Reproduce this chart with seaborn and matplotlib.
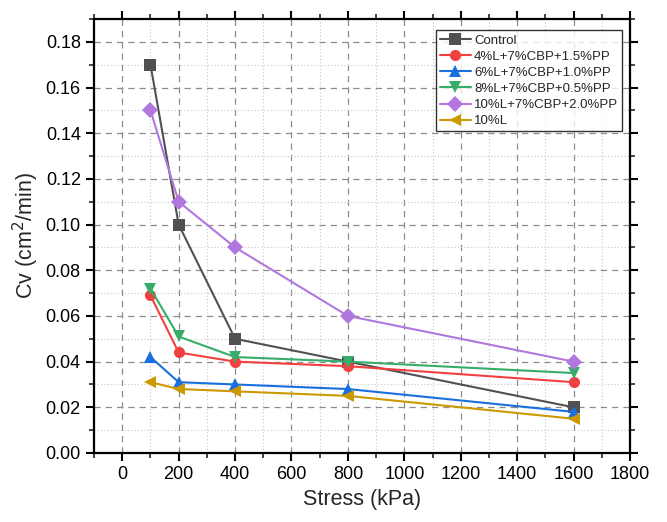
import numpy as np
import pandas as pd
import matplotlib
matplotlib.use("Agg")
import matplotlib.pyplot as plt
from matplotlib.ticker import MultipleLocator
import seaborn as sns

# Consolidation coefficient vs. applied stress
stress = [100, 200, 400, 800, 1600]
mixes = [
    "Control",
    "4%L+7%CBP+1.5%PP",
    "6%L+7%CBP+1.0%PP",
    "8%L+7%CBP+0.5%PP",
    "10%L+7%CBP+2.0%PP",
    "10%L",
]
cv_control = [0.170, 0.100, 0.050, 0.040, 0.020]
cv_4L = [0.069, 0.044, 0.040, 0.038, 0.031]
cv_6L = [0.042, 0.031, 0.030, 0.028, 0.018]
cv_8L = [0.072, 0.051, 0.042, 0.040, 0.035]
cv_10L_pp = [0.150, 0.110, 0.090, 0.060, 0.040]
cv_10L = [0.031, 0.028, 0.027, 0.025, 0.015]

series = [cv_control, cv_4L, cv_6L, cv_8L, cv_10L_pp, cv_10L]
colors = ["#515151", "#F14040", "#1A6FDF", "#37AD6B", "#B177DE", "#CC9900"]
markers = ["s", "o", "^", "v", "D", "<"]

df = pd.DataFrame(
    [(m, s, v) for m, vals in zip(mixes, series) for s, v in zip(stress, vals)],
    columns=["Mix", "Stress", "Cv"],
)

sns.set_style("ticks")
plt.rcParams["font.family"] = ["Liberation Sans", "DejaVu Sans"]

fig = plt.figure(figsize=(6.67, 5.22), dpi=100)
ax = fig.add_axes([0.141, 0.1322, 0.8035, 0.8314])

sns.lineplot(
    data=df, x="Stress", y="Cv", hue="Mix", style="Mix",
    hue_order=mixes, style_order=mixes,
    palette=dict(zip(mixes, colors)),
    markers=dict(zip(mixes, markers)),
    dashes=False, markersize=8, linewidth=1.5,
    markeredgewidth=0, ax=ax, zorder=3,
)

ax.set_xlim(-100, 1800)
ax.set_ylim(0, 0.19)
ax.xaxis.set_major_locator(MultipleLocator(200))
ax.xaxis.set_minor_locator(MultipleLocator(100))
ax.yaxis.set_major_locator(MultipleLocator(0.02))
ax.yaxis.set_minor_locator(MultipleLocator(0.01))
ax.yaxis.set_major_formatter(matplotlib.ticker.FormatStrFormatter("%.2f"))

ax.grid(which="major", linestyle=(0, (5, 4)), color="#8c8c8c", linewidth=0.9)
ax.grid(which="minor", linestyle=(0, (1, 2)), color="#c8c8c8", linewidth=0.8)
ax.set_axisbelow(True)

for sp in ax.spines.values():
    sp.set_linewidth(1.6)
    sp.set_color("black")
ax.tick_params(which="major", direction="out", length=6, width=1.5,
               top=True, right=True, labelsize=13, colors="black")
ax.tick_params(which="minor", direction="out", length=3.5, width=1.2,
               top=True, right=True)
ax.tick_params(labeltop=False, labelright=False)

ax.set_xlabel("Stress (kPa)", fontsize=15.5, labelpad=4)
ax.set_ylabel("Cv (cm$^2$/min)", fontsize=15.5, labelpad=3)

leg = ax.legend(loc="upper right", bbox_to_anchor=(0.99, 0.98), fontsize=9.5,
                frameon=True, fancybox=False, edgecolor="black",
                handlelength=2.4, handletextpad=0.2, borderpad=0.3,
                labelspacing=0.3, borderaxespad=0.2)
leg.get_frame().set_linewidth(1.0)
for h in leg.legend_handles:
    h.set_markersize(8)

fig.savefig("out.png", dpi=100)
